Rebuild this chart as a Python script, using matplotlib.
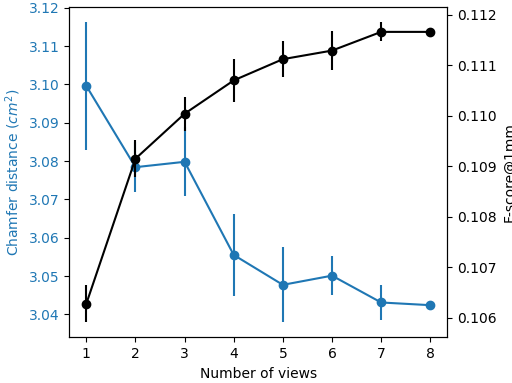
import numpy as np
import matplotlib
matplotlib.use('Agg')
import matplotlib.pyplot as plt

# Data
views = [1, 2, 3, 4, 5, 6, 7, 8]
chamfer = [3.0996, 3.0784, 3.0798, 3.0555, 3.0477, 3.0501, 3.0431, 3.0424]
chamfer_err = [0.0166, 0.0065, 0.0090, 0.0107, 0.0098, 0.0050, 0.0046, 0.0]
fscore = [0.10628, 0.10915, 0.11004, 0.11070, 0.11112, 0.11129, 0.11166, 0.11166]
fscore_err = [0.00037, 0.00037, 0.00034, 0.00043, 0.00035, 0.00039, 0.00019, 0.0]

blue = '#1f77b4'

fig, ax1 = plt.subplots(figsize=(5.12, 3.83), dpi=100)
fig.subplots_adjust(left=0.135, right=0.874, top=0.981, bottom=0.119)

ax1.errorbar(views, chamfer, yerr=chamfer_err, fmt='-o', color=blue)
ax1.set_xlabel('Number of views')
ax1.set_ylabel('Chamfer distance ($cm^2$)', color=blue)
ax1.tick_params(axis='y', labelcolor=blue)
ax1.set_xticks(views)

ax2 = ax1.twinx()
ax2.errorbar(views, fscore, yerr=fscore_err, fmt='-o', color='black')
ax2.set_ylabel('F-score@1mm')

plt.savefig('out.png')
